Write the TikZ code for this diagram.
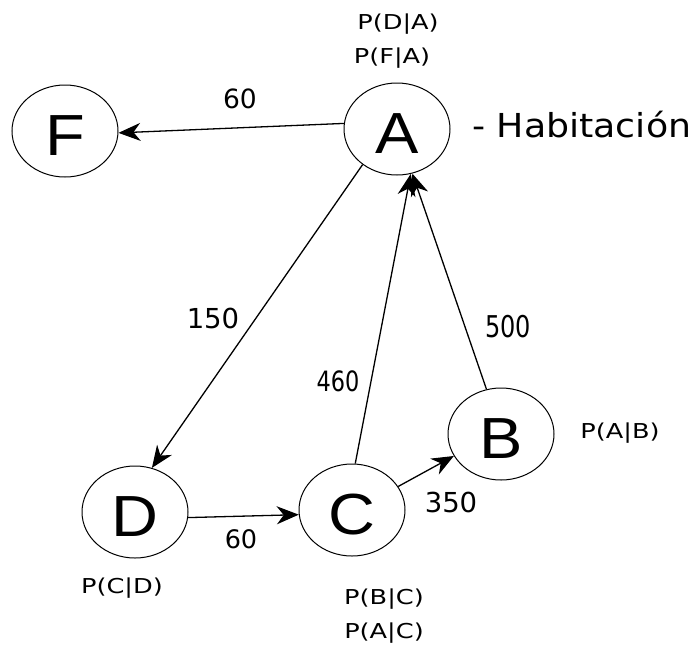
\documentclass[tikz,border=0pt]{standalone}
\usepackage{fontspec}
\usetikzlibrary{arrows.meta,shapes.geometric}
\newfontfamily\numfont{DejaVu Sans}
\newfontfamily\narrowfont[FakeStretch=0.8]{DejaVu Sans}
\newfontfamily\probfont[FakeStretch=1.25]{DejaVu Sans}
\newfontfamily\notefont[FakeStretch=1.1]{DejaVu Sans}
\newfontfamily\letterfont[FakeStretch=1.12]{Liberation Sans}
\tikzset{
  state/.style={ellipse, draw, line width=1pt, minimum width=106pt, minimum height=92pt,
    inner sep=0pt, text height=49pt, text depth=0pt,
    font=\letterfont\fontsize{58}{60}\selectfont},
  link/.style={line width=1.3pt, -{Stealth[length=22pt, width=18pt, inset=7pt]}},
  weight/.style={anchor=base, inner sep=0pt, font=\numfont\fontsize{27.5}{30}\selectfont},
  narrowweight/.style={anchor=base, inner sep=0pt, font=\narrowfont\fontsize{30}{33}\selectfont},
  prob/.style={anchor=base, inner sep=0pt, font=\probfont\fontsize{20.5}{24}\selectfont},
}
\begin{document}
\begin{tikzpicture}[x=1pt, y=-1pt]
  \useasboundingbox (0,0) rectangle (700,648);

  % states
  \node[state] (F) at (65,131) {F};
  \node[state] (A) at (397,129) {A};
  \node[state] (B) at (501,434) {B};
  \node[state] (D) at (135,512) {D};
  \node[state] (C) at (352,510) {C};

  % transitions
  \draw[link] (A.174) -- (F.358);
  \draw[link] (A.226) -- (D.69);
  \draw[link] (C.86) -- (A.287);
  \draw[link] (B.108) -- (A.289);
  \draw[link] (D.354) -- (C.185);
  \draw[link] (C.27) -- (B.205);

  % weights
  \node[weight, font=\numfont\fontsize{26.5}{30}\selectfont] (wAF) at (240,108) {60};
  \node[weight] (wAD) at (213,328) {150};
  \node[narrowweight, font=\narrowfont\fontsize{28}{30}\selectfont] (wCA) at (338,391) {460};
  \node[narrowweight] (wBA) at (508,337) {500};
  \node[weight] (wCB) at (451,512) {350};
  \node[weight, font=\numfont\fontsize{25.5}{30}\selectfont] (wDC) at (241,548) {60};

  % conditional probabilities
  \node[prob] (pDA) at (398,29) {P(D|A)};
  \node[prob] (pFA) at (392,63) {P(F|A)};
  \node[prob] (pAB) at (620,438) {P(A|B)};
  \node[prob] (pCD) at (122,593) {P(C|D)};
  \node[prob] (pBC) at (384,604) {P(B|C)};
  \node[prob] (pAC) at (384,638) {P(A|C)};

  % room note
  \node[anchor=base west, inner sep=0pt, font=\notefont\fontsize{33}{36}\selectfont] (note) at (472,137) {- Habitación};
\end{tikzpicture}
\end{document}
